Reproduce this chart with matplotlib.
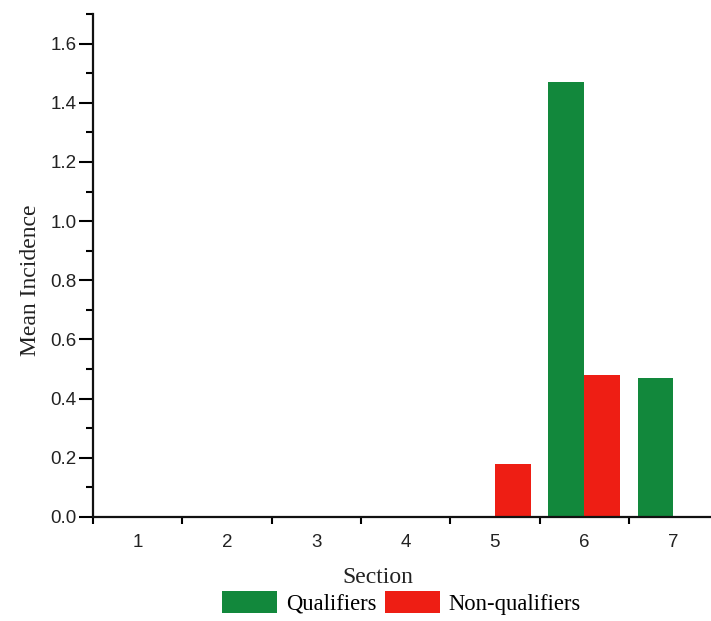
import matplotlib

matplotlib.use("Agg")
import matplotlib.pyplot as plt
import numpy as np
from matplotlib.ticker import MultipleLocator

sections = ["1", "2", "3", "4", "5", "6", "7"]
qualifiers = [0.0, 0.0, 0.0, 0.0, 0.0, 1.47, 0.47]
non_qualifiers = [0.0, 0.0, 0.0, 0.0, 0.18, 0.48, 0.0]

green = "#12883C"
red = "#EE1E14"
serif = "Liberation Serif"
sans = "Liberation Sans"

fig = plt.figure(figsize=(7.11, 6.21), dpi=100)
ax = fig.add_axes([0.131, 0.1675, 0.879, 0.81])

x = np.arange(1, len(sections) + 1)
width = 0.4
ax.bar(x - width / 2, qualifiers, width, color=green, label="Qualifiers")
ax.bar(x + width / 2, non_qualifiers, width, color=red, label="Non-qualifiers")

ax.set_xlim(0.5, 7.5)
ax.set_ylim(0, 1.7)

# labels sit under each section, tick marks fall between sections
ax.set_xticks(x)
ax.set_xticklabels(sections, fontfamily=sans, fontsize=13.5, color="#222222")
ax.tick_params(axis="x", which="major", length=0, pad=12)
ax.xaxis.set_minor_locator(MultipleLocator(1, offset=0.5))
ax.tick_params(axis="x", which="minor", length=5, width=1.5, direction="out")

ax.yaxis.set_major_locator(MultipleLocator(0.2))
ax.yaxis.set_minor_locator(MultipleLocator(0.1))
ax.yaxis.set_major_formatter(lambda v, _: f"{v:.1f}")
ax.tick_params(axis="y", which="major", length=10, width=1.5, pad=2,
               labelsize=13.5, labelcolor="#222222")
ax.tick_params(axis="y", which="minor", length=5, width=1.5)
for label in ax.get_yticklabels():
    label.set_fontfamily(sans)

for side in ("top", "right"):
    ax.spines[side].set_visible(False)
for side in ("left", "bottom"):
    ax.spines[side].set_linewidth(1.6)
    ax.spines[side].set_color("#111111")

ax.set_ylabel("Mean Incidence", fontfamily=serif, fontsize=17, color="#222222")
ax.yaxis.set_label_coords(-0.083, 0.47)
ax.set_xlabel("Section", fontfamily=serif, fontsize=17, color="#222222")
ax.xaxis.set_label_coords(0.455, -0.1)

fig.legend(
    loc="center",
    bbox_to_anchor=(0.565, 0.029),
    ncol=2,
    frameon=False,
    prop={"family": serif, "size": 16.3},
    handlelength=2.4,
    handleheight=1.1,
    handletextpad=0.4,
    columnspacing=0.4,
)

fig.savefig("out.png", dpi=100)
